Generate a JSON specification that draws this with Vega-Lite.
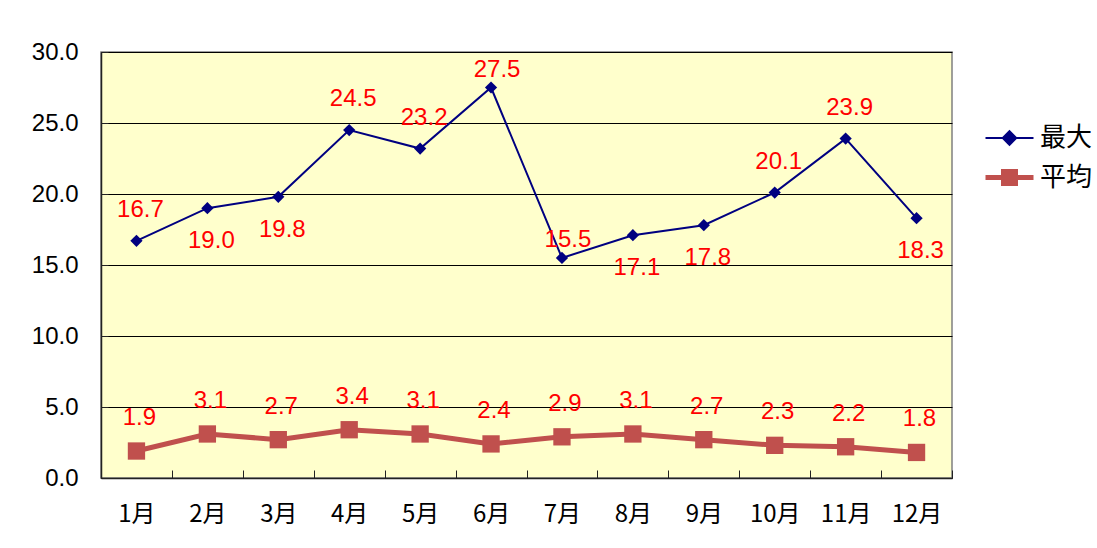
{
  "$schema": "https://vega.github.io/schema/vega-lite/v6.json",
  "autosize": {"type": "none"},
  "width": 851,
  "height": 426,
  "padding": {"left": 101, "top": 52, "right": 145, "bottom": 70},
  "background": "white",
  "config": {
    "view": {"fill": "#FFFFCC", "stroke": "#808080", "strokeWidth": 1.5},
    "font": "Liberation Sans"
  },
  "data": {
    "values": [
      {"month": "1月", "series": "最大", "value": 16.7},
      {"month": "2月", "series": "最大", "value": 19.0},
      {"month": "3月", "series": "最大", "value": 19.8},
      {"month": "4月", "series": "最大", "value": 24.5},
      {"month": "5月", "series": "最大", "value": 23.2},
      {"month": "6月", "series": "最大", "value": 27.5},
      {"month": "7月", "series": "最大", "value": 15.5},
      {"month": "8月", "series": "最大", "value": 17.1},
      {"month": "9月", "series": "最大", "value": 17.8},
      {"month": "10月", "series": "最大", "value": 20.1},
      {"month": "11月", "series": "最大", "value": 23.9},
      {"month": "12月", "series": "最大", "value": 18.3},
      {"month": "1月", "series": "平均", "value": 1.9},
      {"month": "2月", "series": "平均", "value": 3.1},
      {"month": "3月", "series": "平均", "value": 2.7},
      {"month": "4月", "series": "平均", "value": 3.4},
      {"month": "5月", "series": "平均", "value": 3.1},
      {"month": "6月", "series": "平均", "value": 2.4},
      {"month": "7月", "series": "平均", "value": 2.9},
      {"month": "8月", "series": "平均", "value": 3.1},
      {"month": "9月", "series": "平均", "value": 2.7},
      {"month": "10月", "series": "平均", "value": 2.3},
      {"month": "11月", "series": "平均", "value": 2.2},
      {"month": "12月", "series": "平均", "value": 1.8}
    ]
  },
  "encoding": {
    "x": {
      "field": "month", "type": "nominal", "sort": null,
      "scale": {"paddingInner": 0, "paddingOuter": 0},
      "axis": {
        "title": null, "labelAngle": 0, "labelFont": "Noto Sans CJK JP", "labelFontSize": 24,
        "labelColor": "black", "labelPadding": 32, "tickBand": "extent", "tickSize": -8,
        "tickColor": "#222", "domainColor": "#222", "domainWidth": 1.5, "grid": false
      }
    },
    "y": {
      "field": "value", "type": "quantitative",
      "scale": {"domain": [0, 30], "nice": false},
      "axis": {
        "title": null, "values": [0, 5, 10, 15, 20, 25, 30], "format": ".1f",
        "labelFontSize": 24, "labelColor": "black", "labelPadding": 30, "tickSize": -7,
        "tickColor": "#222", "domainColor": "#222", "domainWidth": 1.5,
        "grid": true, "gridColor": "#000", "gridOpacity": 1, "gridWidth": 1
      }
    }
  },
  "layer": [
    {
      "mark": {"type": "line", "strokeCap": "butt"},
      "encoding": {
        "color": {
          "field": "series", "type": "nominal",
          "scale": {"domain": ["最大", "平均"], "range": ["#000080", "#C0504D"]},
          "legend": {
            "title": null, "orient": "none", "legendX": 882, "legendY": 61,
            "labelFont": "Noto Sans CJK JP", "labelFontSize": 26, "labelColor": "black",
            "symbolSize": 2304, "rowPadding": -4, "labelOffset": 4,
            "encode": {
              "symbols": {
                "update": {
                  "shape": {"signal": "datum.value === '最大' ? 'M-1,0H1M0,-0.28L0.28,0L0,0.28L-0.28,0Z' : 'M-1,0H1M-0.25,-0.25H0.25V0.25H-0.25Z'"},
                  "fill": {"signal": "datum.value === '最大' ? '#000080' : '#C0504D'"},
                  "stroke": {"signal": "datum.value === '最大' ? '#000080' : '#C0504D'"},
                  "strokeWidth": {"signal": "datum.value === '最大' ? 2 : 5"},
                  "opacity": {"value": 1},
                  "fillOpacity": {"value": 1}
                }
              }
            }
          }
        },
        "strokeWidth": {
          "field": "series", "type": "nominal",
          "scale": {"domain": ["最大", "平均"], "range": [2, 5]},
          "legend": null
        }
      }
    },
    {
      "transform": [{"filter": "datum.series === '最大'"}],
      "mark": {"type": "point", "shape": "diamond", "filled": true, "color": "#000080", "size": 150, "opacity": 1}
    },
    {
      "transform": [{"filter": "datum.series === '平均'"}],
      "mark": {"type": "point", "shape": "square", "filled": true, "color": "#C0504D", "size": 300, "opacity": 1}
    },
    {
      "transform": [{"filter": "datum.series === '平均'"}],
      "mark": {"type": "text", "color": "#FF0000", "fontSize": 24, "dy": -33, "dx": 3, "baseline": "middle"},
      "encoding": {"text": {"field": "value", "type": "quantitative", "format": ".1f"}}
    },
    {
      "transform": [
        {"filter": "datum.series === '最大'"},
        {"filter": {"field": "month", "oneOf": ["1月", "4月", "5月", "10月", "11月"]}}
      ],
      "mark": {"type": "text", "color": "#FF0000", "fontSize": 24, "dy": -31, "dx": 4, "baseline": "middle"},
      "encoding": {"text": {"field": "value", "type": "quantitative", "format": ".1f"}}
    },
    {
      "transform": [
        {"filter": "datum.series === '最大'"},
        {"filter": {"field": "month", "oneOf": ["6月", "7月"]}}
      ],
      "mark": {"type": "text", "color": "#FF0000", "fontSize": 24, "dy": -18, "dx": 6, "baseline": "middle"},
      "encoding": {"text": {"field": "value", "type": "quantitative", "format": ".1f"}}
    },
    {
      "transform": [
        {"filter": "datum.series === '最大'"},
        {"filter": {"field": "month", "oneOf": ["2月", "3月", "8月", "9月", "12月"]}}
      ],
      "mark": {"type": "text", "color": "#FF0000", "fontSize": 24, "dy": 33, "dx": 4, "baseline": "middle"},
      "encoding": {"text": {"field": "value", "type": "quantitative", "format": ".1f"}}
    }
  ]
}
